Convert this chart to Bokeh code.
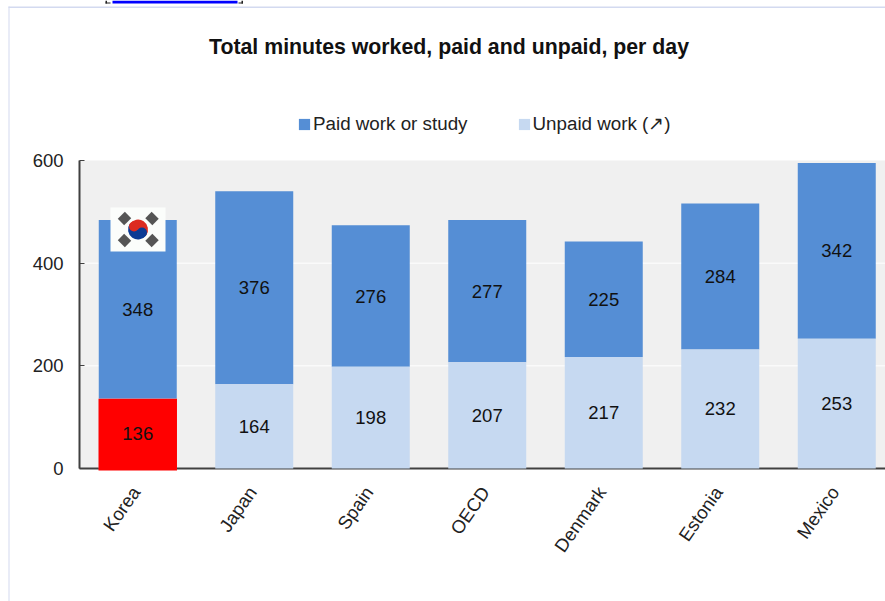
from bokeh.plotting import figure
from bokeh.models import (Range1d, FixedTicker, Label, LabelSet, BoxAnnotation, Legend, LegendItem,
                          ColumnDataSource)
from bokeh.core.properties import value
from bokeh.embed import file_html
from bokeh.resources import INLINE

countries = ["Korea", "Japan", "Spain", "OECD", "Denmark", "Estonia", "Mexico"]
unpaid = [136, 164, 198, 207, 217, 232, 253]
paid = [348, 376, 276, 277, 225, 284, 342]
y_ticks = [0, 200, 400, 600]
grid_values = [200, 400]
TITLE = "Total minutes worked, paid and unpaid, per day"
PAID_LABEL = "Paid work or study"
UNPAID_LABEL = "Unpaid work (\u2197)"

BLUE = "#558ed5"
LIGHT = "#c6d9f1"
BG = "#f0f0f0"
DARK = "#404040"
FONT = "Liberation Sans"

W, H = 885, 601
LEFT, ZERO, TOP = 79, 468, 160   # canvas pixels of the plot area
STEP = 116.5
PER_PX = 600 / (ZERO - TOP)
UNDER = ZERO + 2


def dx(px):
    return (px - LEFT) / STEP


def dy(py):
    return (ZERO - py) * PER_PX


p = figure(width=W, height=H, output_backend="svg", toolbar_location=None,
           x_range=Range1d(dx(0), dx(W)), y_range=Range1d(dy(H), dy(0)),
           min_border=0)
p.outline_line_color = None
p.background_fill_color = "white"
p.border_fill_color = "white"
p.xgrid.visible = False
p.ygrid.visible = False

# page furniture: frame line and the cut-off link above it
p.quad(left=[dx(8), dx(8)], right=[dx(9), dx(W)], top=[dy(6), dy(6)], bottom=[dy(H), dy(7.5)],
       fill_color="#d3daf0", line_color=None)
p.quad(left=[dx(112)], right=[dx(237)], top=[dy(0)], bottom=[dy(3)], fill_color="#0000ff", line_color=None)
p.quad(left=[dx(105), dx(105), dx(241), dx(238)], right=[dx(106.5), dx(110), dx(242.5), dx(242.5)],
       top=[dy(0), dy(2), dy(0), dy(2)], bottom=[dy(3), dy(3), dy(3), dy(3)],
       fill_color="#222222", line_color=None)

p.add_layout(BoxAnnotation(left=0, bottom=0, top=600, fill_color=BG, fill_alpha=1, line_color=None,
                           level="underlay"))
p.segment(x0=[0] * len(grid_values), x1=[dx(W)] * len(grid_values), y0=grid_values, y1=grid_values,
          line_color="white", line_width=1)
p.segment(x0=[0], x1=[dx(W)], y0=[0], y1=[0], line_color=DARK, line_width=2)

xs = [i + 0.5 for i in range(len(countries))]
tops = [u + v for u, v in zip(unpaid, paid)]
src = ColumnDataSource(dict(x=xs, unpaid=unpaid, paid=paid, top=tops,
                            mu=[u / 2 for u in unpaid], mp=[u + v / 2 for u, v in zip(unpaid, paid)],
                            tu=[str(u) for u in unpaid], tp=[str(v) for v in paid]))
BW = 78 / STEP
r_paid = p.vbar(x="x", width=BW, bottom="unpaid", top="top", source=src, fill_color=BLUE, line_color=None)
r_unpaid = p.vbar(x="x", width=BW, bottom=0, top="unpaid", source=src, fill_color=LIGHT, line_color=None)
p.vbar(x=[xs[0]], width=BW + 0.004, bottom=[dy(UNDER)], top=[unpaid[0]], fill_color="#ff0000", line_color=None)

# Korean flag marker on the Korea bar
fx, fy = 137.5, 229
p.rect(x=[dx(fx)], y=[dy(fy)], width=55, height=44, width_units="screen", height_units="screen",
       fill_color="#fbfdfb", line_color=None)
p.wedge(x=[dx(fx)], y=[dy(fy)], radius=10, radius_units="screen", start_angle=-0.6, end_angle=2.54,
        fill_color="#dc2a20", line_color=None)
p.wedge(x=[dx(fx)], y=[dy(fy)], radius=10, radius_units="screen", start_angle=2.54, end_angle=5.68,
        fill_color="#0b3a94", line_color=None)
p.scatter(x=[dx(fx - 4)], y=[dy(fy - 3)], size=10, fill_color="#dc2a20", line_color=None)
p.scatter(x=[dx(fx + 4)], y=[dy(fy + 3)], size=10, fill_color="#0b3a94", line_color=None)
for tx, ty, ang in [(-13.5, -11, 0.785), (14, -11, -0.785), (-13.5, 11, -0.785), (14, 11, 0.785)]:
    p.rect(x=[dx(fx + tx)], y=[dy(fy + ty)], width=10, height=9, width_units="screen", height_units="screen",
           angle=ang, fill_color="#555555", line_color=None)

for col_y, col_t in [("mp", "tp"), ("mu", "tu")]:
    p.add_layout(LabelSet(x="x", y=col_y, text=col_t, source=src, text_align="center", text_baseline="middle",
                          text_font=value(FONT), text_font_size="18.5px", text_color="#111111"))

p.add_layout(Label(x=dx(448.5), y=dy(46), text=TITLE, text_align="center", text_baseline="middle",
                   text_font=FONT, text_font_style="bold", text_font_size="21.3px", text_color="#111111"))

legend = Legend(items=[LegendItem(label=PAID_LABEL, renderers=[r_paid]),
                       LegendItem(label=UNPAID_LABEL, renderers=[r_unpaid])],
                orientation="horizontal", location=(297, H - 135),
                margin=0, padding=0, border_line_color=None, background_fill_alpha=0,
                glyph_width=14, glyph_height=14, label_standoff=2, spacing=49,
                label_text_font=FONT, label_text_font_size="18.8px", label_text_color="#222222")
p.add_layout(legend, "center")

p.yaxis.fixed_location = 0
p.yaxis.ticker = FixedTicker(ticks=y_ticks)
p.yaxis.bounds = (0, 600)
p.yaxis.axis_line_color = DARK
p.yaxis.axis_line_width = 2
p.yaxis.major_tick_in = 5
p.yaxis.major_tick_out = 0
p.yaxis.major_tick_line_color = DARK
p.yaxis.minor_tick_line_color = None
p.yaxis.major_label_text_font = FONT
p.yaxis.major_label_text_font_size = "18.5px"
p.yaxis.major_label_text_color = "#222222"
p.yaxis.major_label_standoff = 16

label_xs = [x - 2 / STEP for x in xs]
p.xaxis.fixed_location = dy(UNDER)
p.xaxis.ticker = FixedTicker(ticks=label_xs)
p.xaxis.major_label_overrides = {x: c for x, c in zip(label_xs, countries)}
p.xaxis.axis_line_color = None
p.xaxis.major_tick_line_color = None
p.xaxis.minor_tick_line_color = None
p.xaxis.major_label_orientation = 0.96
p.xaxis.major_label_text_font = FONT
p.xaxis.major_label_text_font_size = "18.5px"
p.xaxis.major_label_text_color = "#222222"
p.xaxis.major_label_standoff = 12

open("out.html", "w").write(file_html(p, INLINE))
